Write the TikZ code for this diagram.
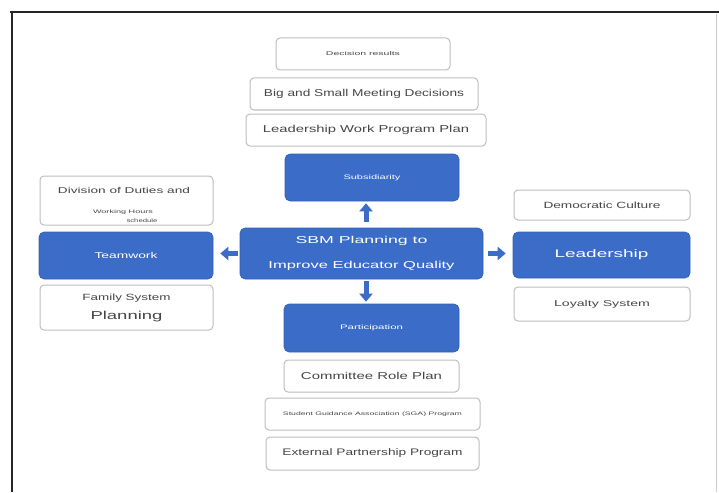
\documentclass[tikz,border=0pt]{standalone}
\usepackage{fontspec}
\usepackage{graphicx}
\setmainfont{Liberation Sans}
\usetikzlibrary{arrows.meta}
\definecolor{bblue}{RGB}{58,108,200}
\definecolor{bord}{RGB}{190,190,190}
\definecolor{txt}{RGB}{70,70,70}
\newcommand\fitw[2]{\resizebox{#1}{\height}{#2}}
\tikzset{
  wbox/.style={draw=bord, line width=1pt, rounded corners=4pt, fill=white, text=txt, align=center, inner sep=1pt},
  bbox/.style={draw=bblue!90!black, line width=0.6pt, rounded corners=5pt, fill=bblue, text=white, align=center, inner sep=1pt},
  tlabel/.style={text=txt, inner sep=0pt},
  arr/.style={draw=bblue, line width=5pt, -{Triangle[width=13pt,length=8pt]}},
  frameline/.style={line width=2.4pt, black!85}
}
\begin{document}
\begin{tikzpicture}[x=1pt,y=-1pt]
\useasboundingbox (0,0) rectangle (719,492);
\fill[white] (0,0) rectangle (719,492);
% frame
\coordinate (f1) at (10,12);
\coordinate (f2) at (719,12);
\coordinate (f3) at (12,492);
\coordinate (f4) at (12,11);
\coordinate (f5) at (716,14);
\coordinate (f6) at (716,492);
\draw[frameline] (f1) -- (f2);
\draw[frameline] (f4) -- (f3);
\draw[line width=1pt, black!20] (f5) -- (f6);
% top stack
\node[wbox, minimum width=174pt, minimum height=32pt, font=\fontsize{5.5}{6}\selectfont] (dr) at (363,54) {\fitw{74pt}{Decision results}};
\node[wbox, minimum width=228pt, minimum height=32pt, font=\fontsize{10}{12}\selectfont] (bs) at (364,94) {\fitw{200pt}{Big and Small Meeting Decisions}};
\node[wbox, minimum width=240pt, minimum height=32pt, font=\fontsize{10}{12}\selectfont] (lw) at (366,130) {\fitw{206pt}{Leadership Work Program Plan}};
\node[bbox, minimum width=174pt, minimum height=47pt, font=\fontsize{6.5}{7}\selectfont] (sub) at (372,177.5) {\fitw{57pt}{Subsidiarity}};
% center
\node[bbox, minimum width=243pt, minimum height=51pt, font=\fontsize{10}{25}\selectfont] (cen) at (361.5,253.5) {\fitw{132pt}{SBM Planning to}\\\fitw{186pt}{Improve Educator Quality}};
% bottom stack
\node[bbox, minimum width=175pt, minimum height=48pt, font=\fontsize{6.5}{7}\selectfont] (par) at (371.5,328) {\fitw{63pt}{Participation}};
\node[wbox, minimum width=175pt, minimum height=32pt, font=\fontsize{10}{12}\selectfont] (cr) at (371.5,376) {\fitw{141pt}{Committee Role Plan}};
\node[wbox, minimum width=215pt, minimum height=32pt, font=\fontsize{5}{6}\selectfont] (sg) at (372.5,414) {\fitw{179pt}{Student Guidance Association (SGA) Program}};
\node[wbox, minimum width=213pt, minimum height=33pt, font=\fontsize{9.5}{11}\selectfont] (ep) at (372.5,453.5) {\fitw{180pt}{External Partnership Program}};
% left
\node[wbox, minimum width=173pt, minimum height=49pt] (dd) at (126.5,200.5) {};
\node[tlabel, font=\fontsize{8.5}{10}\selectfont] (dd1) at (124,190) {\fitw{132pt}{Division of Duties and}};
\node[tlabel, font=\fontsize{5}{6}\selectfont] (dd2) at (123,212) {\fitw{60pt}{Working Hours}};
\node[tlabel, font=\fontsize{5}{6}\selectfont] (dd3) at (142,221) {\fitw{31pt}{schedule}};
\node[bbox, minimum width=174pt, minimum height=47pt, font=\fontsize{8.5}{9}\selectfont] (tw) at (126,255.5) {\fitw{63pt}{Teamwork}};
\node[wbox, minimum width=173pt, minimum height=45pt, font=\fontsize{9}{19}\selectfont] (fs) at (126.5,307.5) {\fitw{88pt}{Family System}\\{\fontsize{11.5}{19}\selectfont\fitw{72pt}{Planning}}};
% right
\node[wbox, minimum width=176pt, minimum height=30pt, font=\fontsize{9}{10}\selectfont] (dc) at (602,205) {\fitw{117pt}{Democratic Culture}};
\node[bbox, minimum width=177pt, minimum height=46pt, font=\fontsize{11}{12}\selectfont] (ld) at (601.5,255) {\fitw{94pt}{Leadership}};
\node[wbox, minimum width=176pt, minimum height=34pt, font=\fontsize{8.5}{10}\selectfont] (ls) at (602,304) {\fitw{96pt}{Loyalty System}};
% arrows
\draw[arr, shorten <=6pt, shorten >=2pt] ([xshift=4.5pt]cen.north) -- ([xshift=4.5pt]cen.north |- sub.south);
\draw[arr, shorten <=2pt, shorten >=2pt] ([xshift=4.5pt]cen.south) -- ([xshift=4.5pt]cen.south |- par.north);
\draw[arr, shorten <=2pt, shorten >=7pt] (cen.west) -- (cen.west -| tw.east);
\draw[arr, shorten <=5pt, shorten >=7pt] (cen.east) -- (cen.east -| ld.west);
\end{tikzpicture}
\end{document}
